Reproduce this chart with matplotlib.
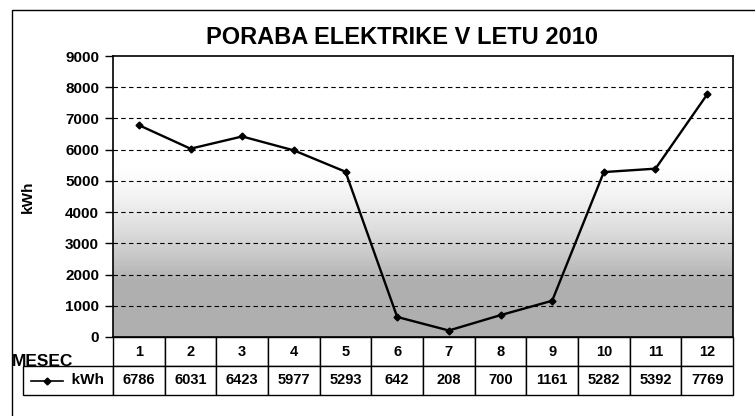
import numpy as np
import matplotlib.pyplot as plt
from matplotlib.patches import Rectangle

plt.rcParams['font.family'] = ['Liberation Sans', 'DejaVu Sans']
plt.rcParams['font.weight'] = 'bold'

# data
months = [1, 2, 3, 4, 5, 6, 7, 8, 9, 10, 11, 12]
kwh = [6786, 6031, 6423, 5977, 5293, 642, 208, 700, 1161, 5282, 5392, 7769]
yticks = [0, 1000, 2000, 3000, 4000, 5000, 6000, 7000, 8000, 9000]

W, H = 755, 416
fig = plt.figure(figsize=(W / 100, H / 100), dpi=100)
ax = fig.add_axes([113 / W, 1 - 337 / H, 620 / W, 281 / H])

# grey background, darker towards the bottom (scanned gradient fill)
grad = np.linspace(0, 1, 200)[:, None]
grad = np.clip((grad - 0.4) / 0.4, 0, 1) * 0.42
ax.imshow(grad, cmap='Greys', vmin=0, vmax=1, aspect='auto',
          extent=[0, 1, 0, 1], transform=ax.transAxes, zorder=0)

ax.plot(months, kwh, color='black', lw=1.7, marker='D', ms=3.5, zorder=3)

ax.set_xlim(0.5, 12.5)
ax.set_ylim(0, 9000)
ax.set_yticks(yticks)
ax.set_yticklabels([str(v) for v in yticks], fontsize=11, fontweight='bold')
ax.tick_params(axis='y', direction='out', length=6, width=1, pad=4)
ax.set_xticks([])
for y in yticks[1:-1]:
    ax.axhline(y, color='black', lw=0.8, ls=(0, (4, 3)), zorder=1)
for s in ax.spines.values():
    s.set_linewidth(1.2)
ax.set_ylabel('kWh', fontsize=11, fontweight='bold', labelpad=22)

# data table under the axis
tab = ax.table(cellText=[[str(m) for m in months], [str(v) for v in kwh]],
               rowLabels=['', '          kWh'],
               cellLoc='center', rowLoc='right',
               bbox=[0, -58 / 281, 1, 58 / 281])
tab.auto_set_font_size(False)
for (r, c), cell in tab.get_celld().items():
    cell.set_linewidth(1.0)
    cell.get_text().set_fontsize(10.5)
    cell.get_text().set_fontweight('bold')
    cell.set_facecolor('white')
    if c == -1:
        cell.set_width(88 / 620)
        if r == 0:
            cell.visible_edges = ''
tab.get_celld()[(1, -1)].get_text().set_fontsize(11)

# legend key inside the row header
ax.plot([-82 / 620, -50 / 620], [-44 / 281, -44 / 281], color='black', lw=1.2,
        transform=ax.transAxes, clip_on=False)
ax.plot([-66 / 620], [-44 / 281], marker='D', ms=3.5, color='black',
        transform=ax.transAxes, clip_on=False)

fig.text(12 / W, 1 - 362 / H, 'MESEC', fontsize=12.5, fontweight='bold', va='center', ha='left')
fig.text(402 / W, 1 - 38 / H, 'PORABA ELEKTRIKE V LETU 2010', fontsize=17,
         fontweight='bold', ha='center', va='center')

# outer frame
fig.patches.append(Rectangle((12 / W, -0.1), 1.2, 1 - 10 / H + 0.1, fill=False,
                             lw=1.0, ec='black', transform=fig.transFigure))

fig.savefig('out.png', dpi=100)
